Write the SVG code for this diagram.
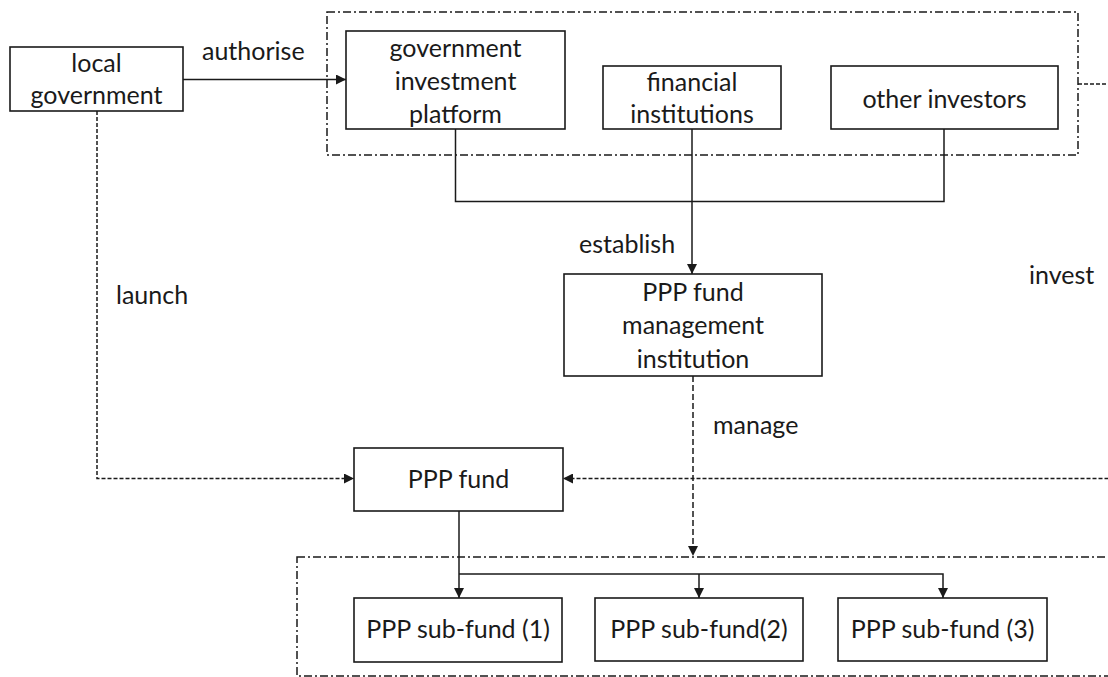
<svg xmlns="http://www.w3.org/2000/svg" width="1108" height="677" viewBox="0 0 1108 677">
  <style>
    .box { fill: #ffffff; stroke: #1a1a1a; stroke-width: 1.6; }
    .group { fill: none; stroke: #1a1a1a; stroke-width: 1.5; stroke-dasharray: 8 3 2 3; }
    .solid { fill: none; stroke: #1a1a1a; stroke-width: 1.5; }
    .dash { fill: none; stroke: #1a1a1a; stroke-width: 1.5; stroke-dasharray: 4 2; }
    .dash2 { fill: none; stroke: #1a1a1a; stroke-width: 1.5; stroke-dasharray: 6 3; }
    text { font-family: Lato, "Liberation Sans", sans-serif; font-size: 25px; fill: #1a1a1a; }
    .c { text-anchor: middle; }
  </style>
  <defs>
    <marker id="arrow" viewBox="0 0 10 10" refX="10" refY="5" markerWidth="10" markerHeight="10" markerUnits="userSpaceOnUse" orient="auto">
      <path d="M0,0 L10,5 L0,10 Z" fill="#1a1a1a"/>
    </marker>
  </defs>

  <!-- grouping frames -->
  <g id="investors-frame">
    <rect class="group" x="327" y="12" width="751" height="143"/>
  </g>
  <g id="subfunds-frame">
    <rect class="group" x="297" y="557" width="860" height="119"/>
  </g>

  <!-- connectors -->
  <g id="connectors">
    <path class="solid" d="M183,79.5 H346" marker-end="url(#arrow)"/>
    <path class="solid" d="M455.5,129 V201.5 H944 V129"/>
    <path class="solid" d="M692,129 V274" marker-end="url(#arrow)"/>
    <path class="dash2" d="M693,376 V556" marker-end="url(#arrow)"/>
    <path class="dash" d="M97,111 V478.5 H354" marker-end="url(#arrow)"/>
    <path class="dash" d="M1078,84 H1118 V478.5 H563" marker-end="url(#arrow)"/>
    <path class="solid" d="M459,511 V598" marker-end="url(#arrow)"/>
    <path class="solid" d="M459,574 H943 V598" marker-end="url(#arrow)"/>
    <path class="solid" d="M699,574 V598" marker-end="url(#arrow)"/>
  </g>

  <!-- connector labels -->
  <g id="labels">
    <text x="202" y="60">authorise</text>
    <text x="579" y="253">establish</text>
    <text x="116" y="304">launch</text>
    <text x="1029" y="284">invest</text>
    <text x="713" y="434">manage</text>
  </g>

  <g id="local-government">
    <rect class="box" x="10" y="47" width="173" height="64"/>
    <text class="c" x="96.5" y="72">local</text>
    <text class="c" x="96.5" y="104">government</text>
  </g>

  <g id="government-investment-platform">
    <rect class="box" x="346" y="31" width="219" height="98"/>
    <text class="c" x="455.5" y="57">government</text>
    <text class="c" x="455.5" y="90">investment</text>
    <text class="c" x="455.5" y="123">platform</text>
  </g>

  <g id="financial-institutions">
    <rect class="box" x="603" y="66" width="178" height="63"/>
    <text class="c" x="692" y="91">financial</text>
    <text class="c" x="692" y="123">institutions</text>
  </g>

  <g id="other-investors">
    <rect class="box" x="831" y="66" width="227" height="63"/>
    <text class="c" x="944.5" y="108">other investors</text>
  </g>

  <g id="fund-management-institution">
    <rect class="box" x="564" y="274" width="258" height="102"/>
    <text class="c" x="693" y="301">PPP fund</text>
    <text class="c" x="693" y="334">management</text>
    <text class="c" x="693" y="368">institution</text>
  </g>

  <g id="ppp-fund">
    <rect class="box" x="354" y="448" width="209" height="63"/>
    <text class="c" x="458.5" y="488">PPP fund</text>
  </g>

  <g id="sub-fund-1">
    <rect class="box" x="354" y="598" width="208" height="64"/>
    <text class="c" x="458" y="638">PPP sub-fund (1)</text>
  </g>

  <g id="sub-fund-2">
    <rect class="box" x="595" y="598" width="208" height="63"/>
    <text class="c" x="699" y="638">PPP sub-fund(2)</text>
  </g>

  <g id="sub-fund-3">
    <rect class="box" x="838" y="598" width="209" height="63"/>
    <text class="c" x="942.5" y="638">PPP sub-fund (3)</text>
  </g>
</svg>
